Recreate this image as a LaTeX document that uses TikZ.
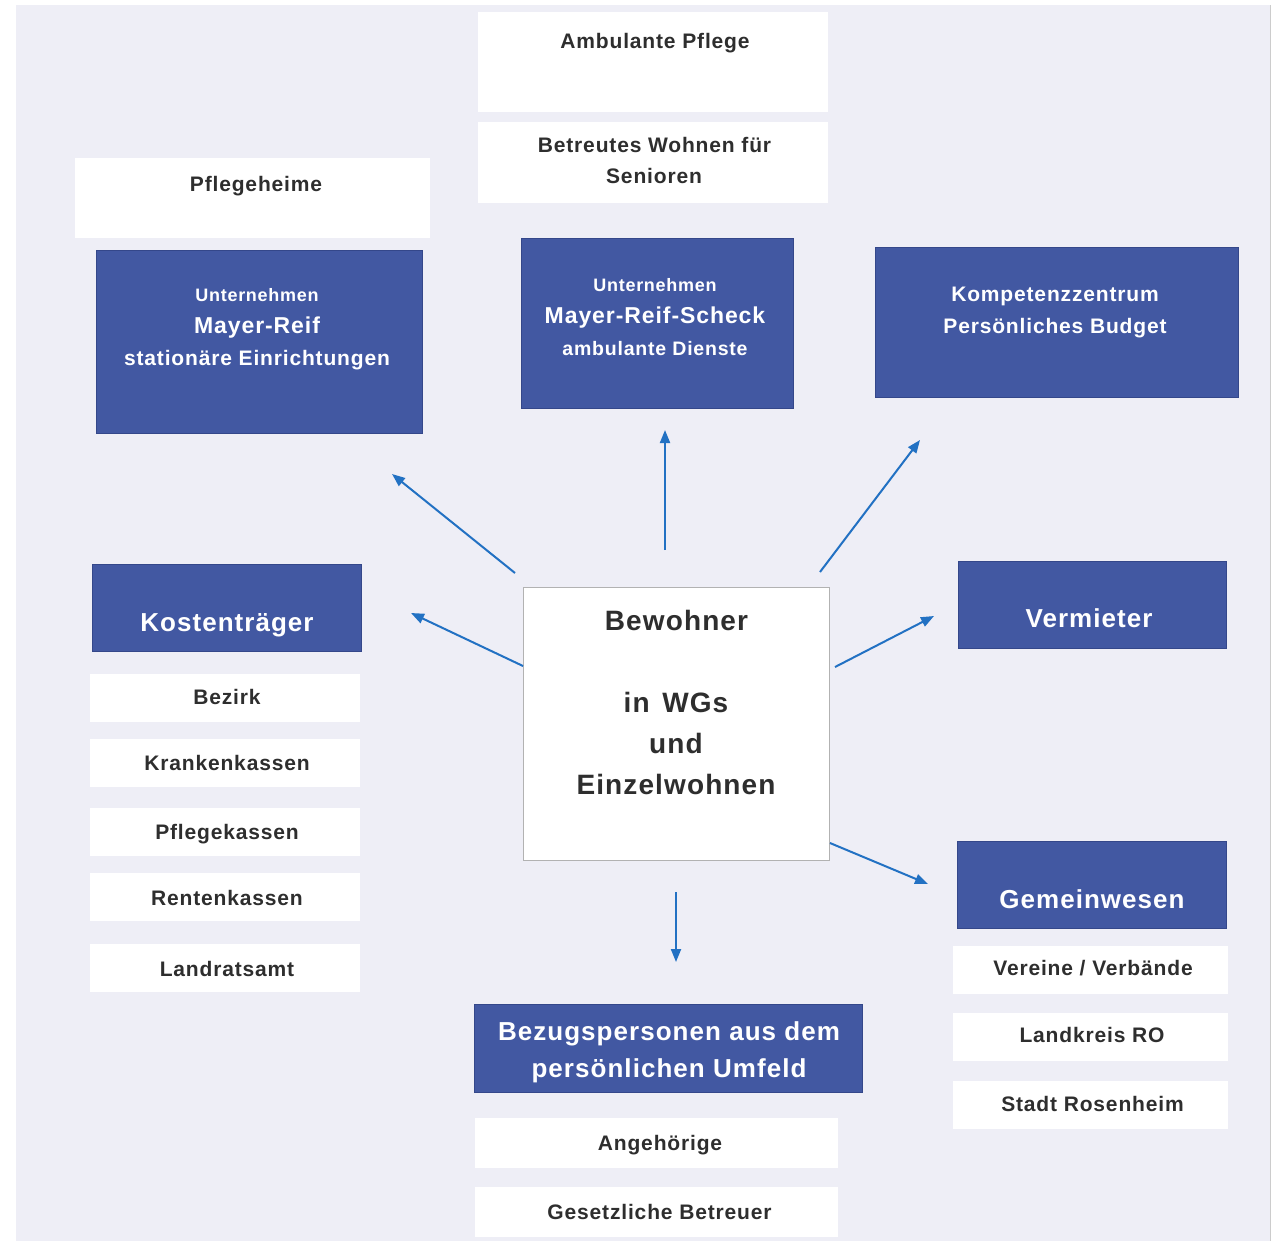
\documentclass[tikz,border=0pt]{standalone}
\usepackage{fontspec}
\setmainfont{Liberation Sans}[LetterSpace=4]
\usetikzlibrary{arrows.meta}
\definecolor{bgc}{HTML}{EEEEF6}
\definecolor{boxblue}{HTML}{4258A2}
\definecolor{boxedge}{HTML}{34478A}
\definecolor{txt}{HTML}{2E2E2E}
\definecolor{arr}{HTML}{2271C3}
\tikzset{
  wbox/.style={rectangle, fill=white, draw=none, inner sep=0pt},
  bbox/.style={rectangle, fill=boxblue, draw=boxedge, line width=1pt, inner sep=0pt},
  cbox/.style={rectangle, fill=white, draw=gray!60, line width=1pt, inner sep=0pt},
  wt/.style={anchor=base, inner sep=0pt, text=txt, font=\bfseries\fontsize{21}{25}\selectfont},
  bt/.style={anchor=base, inner sep=0pt, text=white, font=\bfseries\fontsize{26}{30}\selectfont},
  ct/.style={anchor=base, inner sep=0pt, text=txt, font=\bfseries\fontsize{28}{32}\selectfont},
  conn/.style={draw=arr, line width=2pt, -{Triangle[length=13pt,width=10pt]}}
}
\begin{document}
\begin{tikzpicture}[x=1pt,y=-1pt]
\useasboundingbox (0,0) rectangle (1281,1243);
\fill[bgc] (16,5) rectangle (1270,1241);
\draw[gray!40, line width=1pt] (1270,5) -- (1270,1241);

% top white boxes
\node[wbox, minimum width=350, minimum height=100] (ambB) at (653,62) {};
\node[wt] (ambT) at (655,48) {Ambulante Pflege};
\node[wbox, minimum width=350, minimum height=81] (betB) at (653,162.5) {};
\node[wt] (betT1) at (654.5,152.5) {Betreutes Wohnen für};
\node[wt] (betT2) at (654,183.5) {Senioren};
\node[wbox, minimum width=355, minimum height=80] (pflB) at (252.5,198) {};
\node[wt] (pflT) at (256,191.5) {Pflegeheime};

% blue company boxes
\node[bbox, minimum width=326, minimum height=183] (mr) at (259,341.5) {};
\node[wt, text=white, font=\bfseries\fontsize{18}{22}\selectfont] (mrT1) at (257,301) {Unternehmen};
\node[wt, text=white, font=\bfseries\fontsize{23}{27}\selectfont] (mrT2) at (257,333) {Mayer-Reif};
\node[wt, text=white] (mrT3) at (257,365.5) {stationäre Einrichtungen};

\node[bbox, minimum width=272, minimum height=170] (mrs) at (657,323) {};
\node[wt, text=white, font=\bfseries\fontsize{18}{22}\selectfont] (mrsT1) at (655,291) {Unternehmen};
\node[wt, text=white, font=\bfseries\fontsize{23}{27}\selectfont] (mrsT2) at (655,323) {Mayer-Reif-Scheck};
\node[wt, text=white, font=\bfseries\fontsize{19.5}{23}\selectfont] (mrsT3) at (655,355) {ambulante Dienste};

\node[bbox, minimum width=363, minimum height=150] (kom) at (1056.5,322) {};
\node[wt, text=white] (komT1) at (1055,301.5) {Kompetenzzentrum};
\node[wt, text=white] (komT2) at (1055,333.5) {Persönliches Budget};

% Kostentraeger
\node[bbox, minimum width=269, minimum height=87] (kost) at (226.5,607.5) {};
\node[bt] (kostT) at (227,631) {Kostenträger};
\node[wbox, minimum width=270, minimum height=48] (bezirkB) at (225,698) {};
\node[wt] (bezirkT) at (227,704.5) {Bezirk};
\node[wbox, minimum width=270, minimum height=48] (krankB) at (225,763) {};
\node[wt] (krankT) at (227,770.5) {Krankenkassen};
\node[wbox, minimum width=270, minimum height=48] (pflkB) at (225,832) {};
\node[wt] (pflkT) at (227,839.5) {Pflegekassen};
\node[wbox, minimum width=270, minimum height=48] (rentB) at (225,897) {};
\node[wt] (rentT) at (227,905.5) {Rentenkassen};
\node[wbox, minimum width=270, minimum height=48] (landrB) at (225,968) {};
\node[wt] (landrT) at (227,976.5) {Landratsamt};

% center
\node[cbox, minimum width=306, minimum height=273] (bew) at (676,723.5) {};
\node[ct] (bewT1) at (676.5,630) {Bewohner};
\node[ct] (bewT2) at (676,712) {in\hspace{0.45em}WGs};
\node[ct] (bewT3) at (676,753) {und};
\node[ct] (bewT4) at (676,794) {Einzelwohnen};

% right side
\node[bbox, minimum width=268, minimum height=87] (verm) at (1092,604.5) {};
\node[bt] (vermT) at (1089,627) {Vermieter};
\node[bbox, minimum width=269, minimum height=87] (gem) at (1091.5,884.5) {};
\node[bt] (gemT) at (1092,908) {Gemeinwesen};
\node[wbox, minimum width=275, minimum height=48] (verB) at (1090.5,970) {};
\node[wt] (verT) at (1093,975.5) {Vereine / Verbände};
\node[wbox, minimum width=275, minimum height=48] (lkB) at (1090.5,1037) {};
\node[wt] (lkT) at (1092,1042.5) {Landkreis RO};
\node[wbox, minimum width=275, minimum height=48] (stB) at (1090.5,1105) {};
\node[wt] (stT) at (1092.5,1111.5) {Stadt Rosenheim};

% bottom
\node[bbox, minimum width=388, minimum height=88] (bez) at (668,1048) {};
\node[bt] (bezT1) at (669,1040) {Bezugspersonen aus dem};
\node[bt] (bezT2) at (669,1077) {persönlichen Umfeld};
\node[wbox, minimum width=363, minimum height=50] (angB) at (656.5,1143) {};
\node[wt] (angT) at (660,1150.5) {Angehörige};
\node[wbox, minimum width=363, minimum height=50] (gesB) at (656.5,1212) {};
\node[wt] (gesT) at (659.5,1219.5) {Gesetzliche Betreuer};

% arrow end points
\coordinate (s1) at (515,573); \coordinate (e1) at (392,474);
\coordinate (s2) at (665,550); \coordinate (e2) at (665,430);
\coordinate (s3) at (820,572); \coordinate (e3) at (920,440);
\coordinate (s4) at (523,666); \coordinate (e4) at (411,613);
\coordinate (s5) at (835,667); \coordinate (e5) at (934,616);
\coordinate (s6) at (830,843); \coordinate (e6) at (928,884);
\coordinate (s7) at (676,892); \coordinate (e7) at (676,962);

\draw[conn] (s1) -- (e1);
\draw[conn] (s2) -- (e2);
\draw[conn] (s3) -- (e3);
\draw[conn] (s4) -- (e4);
\draw[conn] (s5) -- (e5);
\draw[conn] (s6) -- (e6);
\draw[conn] (s7) -- (e7);
\end{tikzpicture}
\end{document}
